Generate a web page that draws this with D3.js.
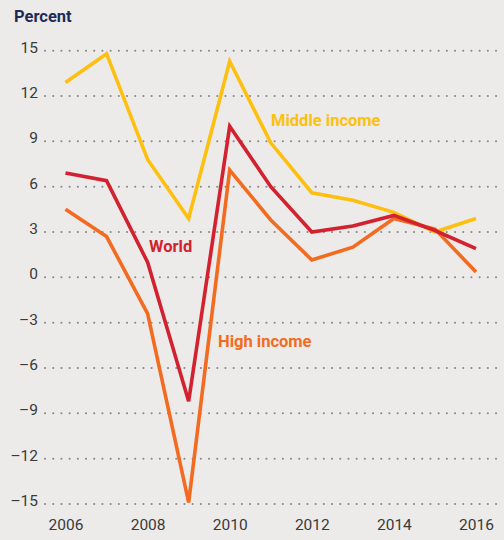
<!DOCTYPE html>
<html>
<head>
<meta charset="utf-8">
<script src="https://cdn.jsdelivr.net/npm/d3@7"></script>
<style>
  body { margin: 0; background: #ecebe9; }
  svg { display: block; font-family: Roboto, "Open Sans", sans-serif; }
</style>
</head>
<body>
<svg id="drawing_region"></svg>
<script>
const years = [2006, 2007, 2008, 2009, 2010, 2011, 2012, 2013, 2014, 2015, 2016];
const middleIncome = [12.9, 14.8, 7.8, 3.9, 14.3, 8.9, 5.6, 5.1, 4.3, 3.0, 3.9];
const world = [6.9, 6.4, 1.0, -8.2, 10.0, 6.0, 3.0, 3.4, 4.1, 3.1, 1.9];
const highIncome = [4.5, 2.7, -2.4, -14.9, 7.1, 3.8, 1.15, 2.0, 3.9, 3.2, 0.35];
const yTicks = [15, 12, 9, 6, 3, 0, -3, -6, -9, -12, -15];
const xTicks = [2006, 2008, 2010, 2012, 2014, 2016];

const series = [
    { name: "Middle income", values: middleIncome, color: "#fdc010", lx: 271, ly: 126 },
    { name: "World", values: world, color: "#d3222f", lx: 149, ly: 252 },
    { name: "High income", values: highIncome, color: "#f36b21", lx: 218, ly: 347 }
];

const config = {
    width: 504,
    height: 540
};

const svg = d3.select("#drawing_region")
    .attr("width", config.width)
    .attr("height", config.height);

svg.append("rect")
    .attr("width", config.width)
    .attr("height", config.height)
    .attr("fill", "#ecebe9");

const xscale = d3.scaleLinear()
    .domain([2006, 2016])
    .range([65.5, 476]);

const yscale = d3.scaleLinear()
    .domain([-15, 15])
    .range([504, 50.7]);

// grid lines
svg.append("g")
    .selectAll("line")
    .data(yTicks)
    .join("line")
    .attr("x1", 45)
    .attr("x2", 500)
    .attr("y1", d => yscale(d))
    .attr("y2", d => yscale(d))
    .attr("stroke", "#8a8a8a")
    .attr("stroke-width", 2)
    .attr("stroke-linecap", "round")
    .attr("stroke-dasharray", "0.1,8.1");

// y axis labels
const yaxis = d3.axisLeft(yscale)
    .tickValues(yTicks)
    .tickSize(0)
    .tickPadding(0)
    .tickFormat(d => d < 0 ? "\u2013" + Math.abs(d) : d);

svg.append("g")
    .attr("transform", "translate(38,0)")
    .call(yaxis)
    .call(g => g.select(".domain").remove())
    .selectAll("text")
    .attr("fill", "#3a3a3a")
    .attr("font-size", "15.5px")
    .attr("font-family", "Roboto, sans-serif")
    .attr("dy", "0.1em");

// x axis labels
const xaxis = d3.axisBottom(xscale)
    .tickValues(xTicks)
    .tickSize(0)
    .tickPadding(0)
    .tickFormat(d3.format("d"));

svg.append("g")
    .attr("transform", "translate(0,519)")
    .call(xaxis)
    .call(g => g.select(".domain").remove())
    .selectAll("text")
    .attr("fill", "#3a3a3a")
    .attr("font-size", "15.5px")
    .attr("font-family", "Roboto, sans-serif");

// title
svg.append("text")
    .attr("x", 14)
    .attr("y", 22)
    .attr("fill", "#1e2b57")
    .attr("font-size", "16.5px")
    .attr("font-weight", "bold")
    .text("Percent");

const line = d3.line()
    .x((d, i) => xscale(years[i]))
    .y(d => yscale(d));

// draw high income first so middle/world sit on top, as in the figure
const order = [series[0], series[2], series[1]];
svg.append("g")
    .selectAll("path")
    .data(order)
    .join("path")
    .attr("d", d => line(d.values))
    .attr("fill", "none")
    .attr("stroke", d => d.color)
    .attr("stroke-width", 3.6)
    .attr("stroke-linejoin", "miter");

svg.append("g")
    .selectAll("text")
    .data(series)
    .join("text")
    .attr("x", d => d.lx)
    .attr("y", d => d.ly)
    .attr("fill", d => d.color)
    .attr("font-size", "16.5px")
    .attr("font-weight", "bold")
    .text(d => d.name);
</script>
</body>
</html>
